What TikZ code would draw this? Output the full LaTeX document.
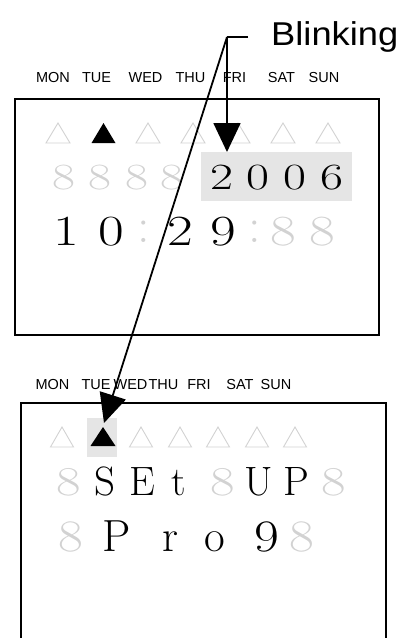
\documentclass[tikz,border=0pt]{standalone}
\usepackage{fontspec}
\newfontfamily\arial{Liberation Sans}
\usetikzlibrary{arrows.meta}
\definecolor{segoff}{RGB}{210,210,210}
\definecolor{hl}{RGB}{229,229,229}
\begin{document}
\begin{tikzpicture}[x=1pt,y=-1pt,
  frame/.style={line width=1.4pt},
  day/.style={anchor=base,inner sep=0,font=\arial\fontsize{14.5}{14.5}\selectfont},
  dA/.style={anchor=base,inner sep=0,font=\fontsize{37}{37}\selectfont,xscale=1.35},
  dB/.style={anchor=base,inner sep=0,font=\fontsize{43}{43}\selectfont,xscale=1.3},
  dC/.style={anchor=base,inner sep=0,font=\fontsize{41}{41}\selectfont},
  dD/.style={anchor=base,inner sep=0,font=\fontsize{45}{45}\selectfont},
  off/.style={text=segoff},
  wide/.style={xscale=1.3},
  colon/.style={anchor=base,inner sep=0,font=\fontsize{50}{50}\selectfont,text=segoff},
  tri/.style={draw=segoff,line width=0.9pt,line join=miter},
  lead/.style={line width=1.8pt},
  blink/.style={lead,-{Triangle[width=27pt,length=29pt]}}
]
\useasboundingbox (0,0) rectangle (406,638);

% ---------- frames ----------
\draw[frame] (15,99) rectangle (379,335);
\draw[frame] (21,650) -- (21,403) -- (386,403) -- (386,650);

% ---------- highlights ----------
\fill[hl] (201,152) rectangle (352,201);
\fill[hl] (87,418) rectangle (117,457);

% ---------- day labels, display 1 ----------
\node[day] (m1) at (53,82) {MON};
\node[day] (t1) at (96.5,82) {TUE};
\node[day] (w1) at (145.5,82) {WED};
\node[day] (h1) at (190.5,82) {THU};
\node[day] (f1) at (234.5,82) {FRI};
\node[day] (s1) at (281.5,82) {SAT};
\node[day] (u1) at (324,82) {SUN};

% ---------- triangles, display 1 ----------
\foreach \c in {58,148,193,238,283,328}
  \draw[tri] (\c-12,143) -- (\c+12,143) -- (\c,123) -- cycle;
\fill (91.5,143) -- (115.5,143) -- (103.5,123) -- cycle;

% ---------- year row ----------
\node[dA,off] (y1) at (64,189) {8};
\node[dA,off] (y2) at (100,189) {8};
\node[dA,off] (y3) at (137,189) {8};
\node[dA,off] (y4) at (172,189) {8};
\node[dA] (y5) at (222,189) {2};
\node[dA] (y6) at (258,189) {0};
\node[dA] (y7) at (295,189) {0};
\node[dA] (y8) at (332,189) {6};

% ---------- time row ----------
\node[dB] (c1) at (66,245) {1};
\node[dB] (c2) at (111,245) {0};
\node[colon] (k1) at (144,242) {:};
\node[dB] (c3) at (180,245) {2};
\node[dB] (c4) at (223,245) {9};
\node[colon] (k2) at (255,242) {:};
\node[dB,off] (c5) at (283,245) {8};
\node[dB,off] (c6) at (322,245) {8};

% ---------- day labels, display 2 ----------
\node[day] (m2) at (52.5,389) {MON};
\node[day] (t2) at (96,389) {TUE};
\node[day] (w2) at (130.5,389) {WED};
\node[day] (h2) at (163.5,389) {THU};
\node[day] (f2) at (199,389) {FRI};
\node[day] (s2) at (240,389) {SAT};
\node[day] (u2) at (276,389) {SUN};

% ---------- triangles, display 2 ----------
\foreach \c in {62,141,180,218,257,295}
  \draw[tri] (\c-11.5,447) -- (\c+11.5,447) -- (\c,427) -- cycle;
\fill (90.5,446) -- (115.5,446) -- (103,427) -- cycle;

% ---------- SEt UP row ----------
\node[dC,off,wide] (a1) at (69,495) {8};
\node[dC] (a2) at (105,495) {S};
\node[dC] (a3) at (142,495) {E};
\node[dC] (a4) at (179,495) {t};
\node[dC,off,wide] (a5) at (223,495) {8};
\node[dC] (a6) at (259,495) {U};
\node[dC] (a7) at (296,495) {P};
\node[dC,off,wide] (a8) at (334,495) {8};

% ---------- Pro9 row ----------
\node[dD,off,xscale=1.2] (b1) at (71,551) {8};
\node[dD] (b2) at (116.5,551) {P};
\node[dD] (b3) at (170,551) {r};
\node[dD] (b4) at (215,551) {o};
\node[dD,xscale=1.2] (b5) at (267,551) {9};
\node[dD,off,xscale=1.2] (b6) at (302,551) {8};

% ---------- Blinking callout ----------
\node[anchor=base west,inner sep=0,font=\arial\fontsize{33}{33}\selectfont,xscale=1.1] (lbl) at (271,45) {Blinking};
\coordinate (corner) at (227,37);
\coordinate (hend) at (248,37);
\coordinate (tipA) at (227,152);
\coordinate (tipB) at (104,423);
\draw[lead] (hend) -- (corner);
\draw[blink] (corner) -- (tipA);
\draw[blink] (corner) -- (tipB);
\end{tikzpicture}
\end{document}
